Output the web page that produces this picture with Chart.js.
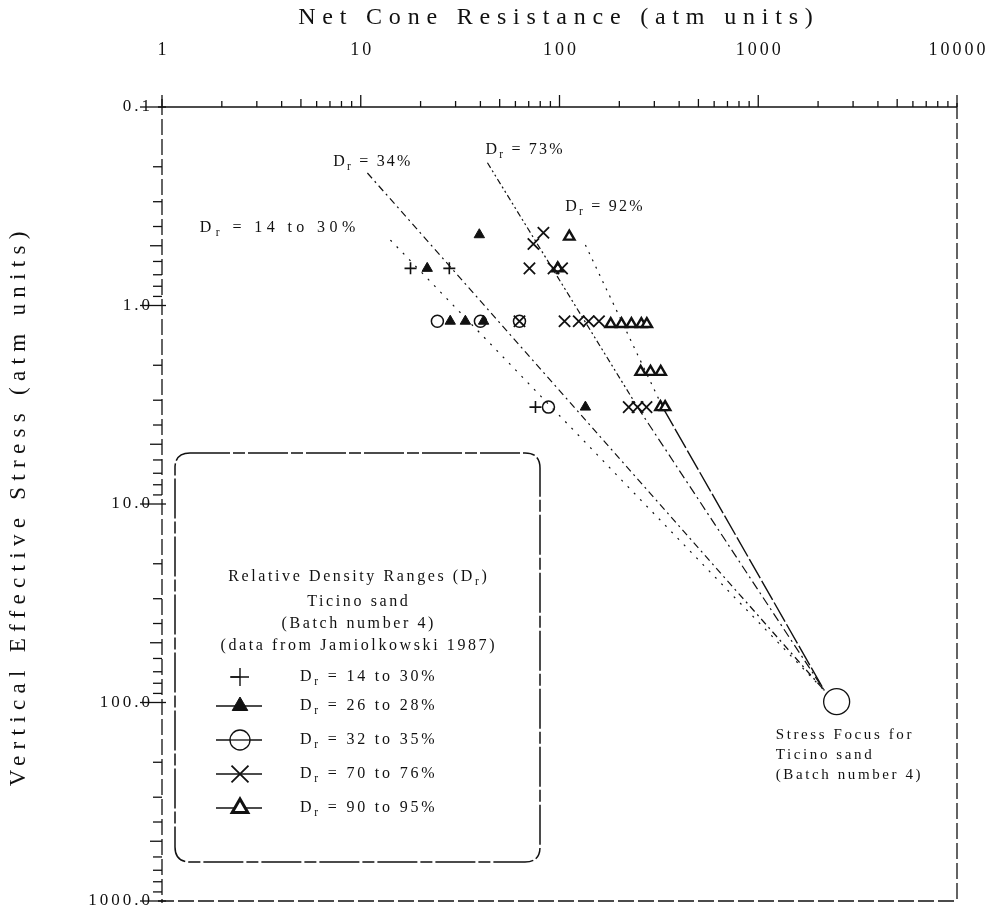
<!DOCTYPE html>
<html>
<head>
<meta charset="utf-8">
<script src="https://cdn.jsdelivr.net/npm/chart.js@4.4.1/dist/chart.umd.min.js"></script>
<style>
  html, body { margin: 0; padding: 0; background: #fff; }
  #wrap { width: 995px; height: 916px; }
</style>
</head>
<body>
<div id="wrap"><canvas id="chart" width="995" height="916"></canvas></div>
<script>
// ---- axis ticks ----
const xTickValues = [1, 10, 100, 1000, 10000];
const xTickLabels = ['1', '10', '100', '1000', '10000'];
const yTickValues = [0.1, 1, 10, 100, 1000];
const yTickLabels = ['0.1', '1.0', '10.0', '100.0', '1000.0'];

// ---- measured points: net cone resistance q (atm) vs vertical effective stress s (atm) ----
// Dr = 14 to 30%
const dr14Q = [17.8, 27.9, 75.7];
const dr14S = [0.65, 0.65, 3.25];
// Dr = 26 to 28%
const dr26Q = [21.6, 39.5, 28.2, 33.6, 41.5, 135];
const dr26S = [0.65, 0.44, 1.2, 1.2, 1.2, 3.25];
// Dr = 32 to 35%
const dr32Q = [24.3, 40.0, 62.9, 88.0];
const dr32S = [1.2, 1.2, 1.2, 3.25];
// Dr = 70 to 76%
const dr70Q = [83.0, 73.9, 70.6, 93.3, 103, 62.9, 106, 125, 140, 158, 223, 247, 274];
const dr70S = [0.43, 0.49, 0.65, 0.65, 0.65, 1.2, 1.2, 1.2, 1.2, 1.2, 3.25, 3.25, 3.25];
// Dr = 90 to 95%
const dr90Q = [112, 98.0, 181, 205, 230, 258, 275, 256, 287, 323, 322, 340];
const dr90S = [0.45, 0.65, 1.24, 1.24, 1.24, 1.24, 1.24, 2.16, 2.16, 2.16, 3.25, 3.25];

const groupLabels = ['D_r = 14 to 30%', 'D_r = 26 to 28%', 'D_r = 32 to 35%', 'D_r = 70 to 76%', 'D_r = 90 to 95%'];

// ---- trend lines towards the stress focus ----
const trendNames = ['D_r = 14 to 30%', 'D_r = 34%', 'D_r = 73%', 'D_r = 92%'];
const trendStartQ = [14.1, 10.8, 43.4, 135];
const trendStartS = [0.468, 0.215, 0.191, 0.496];
const trendBendQ = [null, null, 247, 330];
const trendBendS = [null, null, 3.25, 3.25];
const focusEndQ = 2150;
const focusEndS = 87;
const focusQ = [2480];
const focusS = [99];

const legendTitle = ['Relative Density Ranges (D_r)', 'Ticino sand', '(Batch number 4)', '(data from Jamiolkowski 1987)'];
const focusNote = ['Stress Focus for', 'Ticino sand', '(Batch number 4)'];
const xTitle = 'Net Cone Resistance (atm units)';
const yTitle = 'Vertical Effective Stress (atm units)';

const INK = '#111';
const FONT = '"Liberation Serif", "Times New Roman", serif';

const pts = (qs, ss) => qs.map((q, i) => ({ x: q, y: ss[i] }));

const markerStyles = [
  { pointStyle: 'cross', radius: 6, borderWidth: 1.6, fill: INK },
  { pointStyle: 'triangle', radius: 6, borderWidth: 1, fill: INK },
  { pointStyle: 'circle', radius: 6, borderWidth: 1.5, fill: 'rgba(0,0,0,0)' },
  { pointStyle: 'crossRot', radius: 8, borderWidth: 1.8, fill: INK },
  { pointStyle: 'triangle', radius: 6, borderWidth: 2.4, fill: '#fff' }
];
const seriesQ = [dr14Q, dr26Q, dr32Q, dr70Q, dr90Q];
const seriesS = [dr14S, dr26S, dr32S, dr70S, dr90S];

const markerSets = seriesQ.map((qs, i) => ({
  label: groupLabels[i],
  data: pts(qs, seriesS[i]),
  pointStyle: markerStyles[i].pointStyle,
  pointRadius: markerStyles[i].radius,
  pointBorderWidth: markerStyles[i].borderWidth,
  pointBackgroundColor: markerStyles[i].fill,
  pointBorderColor: INK,
  showLine: false,
  order: 0
}));

const trendDash = [[2, 7], [7, 4, 2, 4], [6, 3, 2, 3, 2, 3], [2, 6]];
const trendSets = trendStartQ.map((q, i) => {
  const data = [{ x: q, y: trendStartS[i] }];
  if (trendBendQ[i] !== null) data.push({ x: trendBendQ[i], y: trendBendS[i] });
  data.push({ x: focusEndQ, y: focusEndS });
  return {
    label: trendNames[i],
    type: 'line',
    data,
    borderColor: INK,
    borderWidth: 1.2,
    borderDash: trendDash[i],
    pointRadius: 0,
    fill: false,
    tension: 0,
    order: 10,
    segment: i === 3 ? { borderDash: c => (c.p0DataIndex === 1 ? [22, 3] : [2, 6]), borderWidth: c => (c.p0DataIndex === 1 ? 1.4 : 1.2) }
           : i === 2 ? { borderDash: c => (c.p0DataIndex === 1 ? [9, 4, 2, 4] : [6, 3, 2, 3, 2, 3]) } : undefined
  };
});

const focusSet = {
  label: 'Stress focus',
  data: pts(focusQ, focusS),
  pointStyle: 'circle',
  pointRadius: 13,
  pointBorderWidth: 1.3,
  pointBackgroundColor: 'rgba(0,0,0,0)',
  pointBorderColor: INK,
  showLine: false,
  order: 1
};

// ---- text helpers: "_x" marks a one-letter subscript ----
function parseRich(str) {
  const parts = [];
  let buf = '';
  for (let i = 0; i < str.length; i++) {
    if (str[i] === '_' && i + 1 < str.length) {
      if (buf) parts.push({ t: buf, sub: false });
      buf = '';
      parts.push({ t: str[i + 1], sub: true });
      i++;
    } else buf += str[i];
  }
  if (buf) parts.push({ t: buf, sub: false });
  return parts;
}
function drawRich(ctx, str, x, y, size, spacing, align) {
  const parts = parseRich(str);
  ctx.letterSpacing = spacing + 'px';
  let w = 0;
  const widths = parts.map(p => {
    ctx.font = (p.sub ? size * 0.72 : size) + 'px ' + FONT;
    const m = ctx.measureText(p.t).width;
    w += m;
    return m;
  });
  w -= spacing;
  let cx = align === 'center' ? x - w / 2 : align === 'right' ? x - w : x;
  ctx.textAlign = 'left';
  ctx.textBaseline = 'middle';
  parts.forEach((p, i) => {
    ctx.font = (p.sub ? size * 0.72 : size) + 'px ' + FONT;
    ctx.fillText(p.t, cx, p.sub ? y + size * 0.32 : y);
    cx += widths[i];
  });
  ctx.letterSpacing = '0px';
}
function seg(ctx, x1, y1, x2, y2) {
  ctx.beginPath(); ctx.moveTo(x1, y1); ctx.lineTo(x2, y2); ctx.stroke();
}

// ---- annotations placed in data coordinates ----
const trendLabelQ = [1.55, 7.27, 42.4, 107];
const trendLabelS = [0.405, 0.189, 0.165, 0.319];
const trendLabelSpacing = [4.4, 2.2, 2.2, 2.2];
const focusNoteQ = 1225;
const focusNoteS = 146;

const figurePlugin = {
  id: 'figure',
  beforeDatasetsDraw(chart) {
    const { ctx, chartArea: a, scales: { x, y } } = chart;
    ctx.save();
    ctx.strokeStyle = INK;
    ctx.fillStyle = INK;
    ctx.lineWidth = 1.3;
    // top axis line (solid) and dashed frame
    seg(ctx, a.left - 4, a.top, a.right, a.top);
    ctx.setLineDash([16, 4]);
    seg(ctx, a.left, a.top - 8, a.left, a.bottom + 2);
    seg(ctx, a.right, a.top - 4, a.right, a.bottom);
    seg(ctx, a.left - 4, a.bottom, a.right, a.bottom);
    ctx.setLineDash([]);

    // minor and major ticks from the scale's decades
    const xMinE = Math.round(Math.log10(x.min)), xMaxE = Math.round(Math.log10(x.max));
    for (let e = xMinE; e <= xMaxE; e++) {
      for (let k = 1; k <= 9; k++) {
        const v = k * Math.pow(10, e);
        if (v > x.max * 1.0001) break;
        const px = x.getPixelForValue(v);
        const len = k === 1 ? 12 : (k === 5 ? 8 : 6);
        seg(ctx, px, a.top, px, a.top - len);
      }
    }
    const yMinE = Math.round(Math.log10(y.min)), yMaxE = Math.round(Math.log10(y.max));
    for (let e = yMinE; e <= yMaxE; e++) {
      for (let k = 1; k <= 9; k++) {
        const v = k * Math.pow(10, e);
        if (v > y.max * 1.0001) break;
        const py = y.getPixelForValue(v);
        if (k === 1) seg(ctx, a.left - 22, py, a.left + 4, py);
        else seg(ctx, a.left - (k === 5 ? 12 : 9), py, a.left, py);
      }
    }

    // tick labels
    xTickValues.forEach((v, i) => drawRich(ctx, xTickLabels[i], x.getPixelForValue(v), 50, 18, 3, 'center'));
    yTickValues.forEach((v, i) => drawRich(ctx, yTickLabels[i], 150, y.getPixelForValue(v), 17, 3, 'right'));

    // axis titles
    drawRich(ctx, xTitle, (a.left + a.right) / 2 - 4, 18, 24, 6.8, 'center');
    ctx.save();
    ctx.translate(19, 509);
    ctx.rotate(-Math.PI / 2);
    drawRich(ctx, yTitle, 0, 0, 23, 6.3, 'center');
    ctx.restore();
    ctx.restore();
  },
  afterDatasetsDraw(chart) {
    const { ctx, scales: { x, y } } = chart;
    ctx.save();
    ctx.fillStyle = INK;
    ctx.strokeStyle = INK;

    // labels at the head of each trend line
    trendNames.forEach((t, i) => drawRich(ctx, t, x.getPixelForValue(trendLabelQ[i]), y.getPixelForValue(trendLabelS[i]), 16, trendLabelSpacing[i], 'left'));

    // stress focus note
    const nx = x.getPixelForValue(focusNoteQ), ny = y.getPixelForValue(focusNoteS);
    focusNote.forEach((t, i) => drawRich(ctx, t, nx, ny + i * 20, 15, 2.6, 'left'));

    // legend box
    const L = 175, T = 453, R = 540, B = 862, rad = 15;
    ctx.lineWidth = 1.5;
    ctx.setLineDash([40, 3, 12, 3]);
    ctx.beginPath();
    ctx.moveTo(L + rad, T);
    ctx.lineTo(R - rad, T);
    ctx.quadraticCurveTo(R, T, R, T + rad);
    ctx.lineTo(R, B - rad);
    ctx.quadraticCurveTo(R, B, R - rad, B);
    ctx.lineTo(L + rad, B);
    ctx.quadraticCurveTo(L, B, L, B - rad);
    ctx.lineTo(L, T + rad);
    ctx.quadraticCurveTo(L, T, L + rad, T);
    ctx.stroke();
    ctx.setLineDash([]);

    const cx = (L + R) / 2;
    const titleY = [577, 602, 624, 646];
    legendTitle.forEach((t, i) => drawRich(ctx, t, cx, titleY[i], 16, 2.6, 'center'));

    const rowY = [677, 706, 740, 774, 808];
    const legendMarks = [
      { pointStyle: 'cross', radius: 9, borderWidth: 1.4 },
      { pointStyle: 'triangle', radius: 9, borderWidth: 1 },
      { pointStyle: 'circle', radius: 10, borderWidth: 1.3 },
      { pointStyle: 'crossRot', radius: 12, borderWidth: 1.8 },
      { pointStyle: 'triangle', radius: 9, borderWidth: 3 }
    ];
    groupLabels.forEach((t, i) => {
      const yy = rowY[i];
      ctx.lineWidth = 1.4;
      if (i === 0) {
        seg(ctx, 230, yy, 240, yy);
      } else {
        seg(ctx, 216, yy, 262, yy);
      }
      ctx.fillStyle = markerStyles[i].fill;
      ctx.strokeStyle = INK;
      ctx.lineWidth = legendMarks[i].borderWidth;
      if (i === 2 || i === 4) {
        ctx.fillStyle = '#fff';
      }
      Chart.helpers.drawPoint(ctx, { pointStyle: legendMarks[i].pointStyle, radius: legendMarks[i].radius, rotation: 0, borderWidth: legendMarks[i].borderWidth }, 240, yy);
      if (i === 2) seg(ctx, 230, yy, 250, yy);
      ctx.fillStyle = INK;
      drawRich(ctx, t, 300, yy, 16, 2.8, 'left');
    });
    ctx.restore();
  }
};

new Chart(document.getElementById('chart'), {
  type: 'scatter',
  data: { datasets: [...markerSets, focusSet, ...trendSets] },
  options: {
    responsive: false,
    animation: false,
    devicePixelRatio: 1,
    layout: { autoPadding: false, padding: { left: 0, top: 0, right: 38, bottom: 15 } },
    plugins: { legend: { display: false }, tooltip: { enabled: false } },
    scales: {
      x: {
        type: 'logarithmic', position: 'top', min: 1, max: 10000,
        grid: { display: false }, border: { display: false }, ticks: { display: false },
        afterFit(s) { s.height = 107; }
      },
      y: {
        type: 'logarithmic', reverse: true, min: 0.1, max: 1000,
        grid: { display: false }, border: { display: false }, ticks: { display: false },
        afterFit(s) { s.width = 162; }
      }
    }
  },
  plugins: [figurePlugin]
});
</script>
</body>
</html>
